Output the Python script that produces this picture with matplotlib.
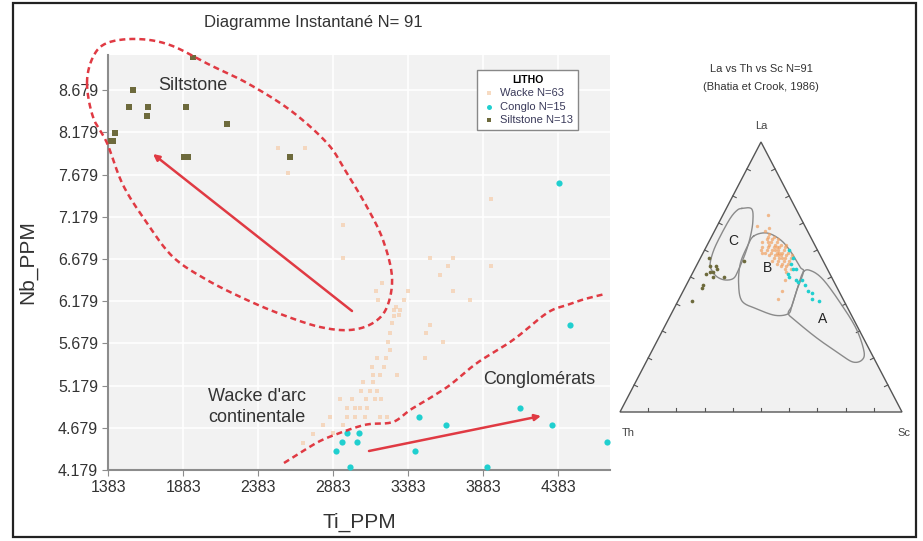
import numpy as np
import matplotlib.pyplot as plt
from matplotlib.patches import Rectangle, Polygon, FancyArrowPatch

plt.rcParams['font.family'] = ['Liberation Sans', 'DejaVu Sans']

# ---------------- main scatter : Ti_PPM vs Nb_PPM ----------------
wacke_ti = [2514, 2694, 2581, 2948, 2948, 3934, 3528, 3681, 3648, 3594,
            3934, 3681, 3794, 3168, 3181, 3354, 3288, 3328, 3288, 3321,
            3274, 3528, 3501, 3248, 3261, 3614, 3174, 3234, 3494, 3148,
            3194, 3308, 3081, 3148, 3128, 3174, 3161, 3201, 2928, 2974,
            3028, 2861, 2974, 3028, 3094, 3194, 2881, 3301, 3101, 2948,
            3141, 3221, 3061, 3108, 3241, 2814, 2748, 2681, 3261, 3381,
            3208, 3068, 3010]
wacke_nb = [7.994, 7.994, 7.698, 7.082, 6.691, 7.390, 6.691, 6.691, 6.596, 6.489,
            6.596, 6.300, 6.193, 6.300, 6.193, 6.193, 6.075, 6.075, 6.004, 6.016,
            5.921, 5.897, 5.802, 5.696, 5.601, 5.696, 5.506, 5.506, 5.506, 5.305,
            5.305, 5.305, 5.222, 5.222, 5.115, 5.115, 5.020, 5.020, 5.020, 4.914,
            4.914, 4.807, 4.807, 4.807, 4.807, 4.807, 4.617, 6.110, 5.020, 4.712,
            5.400, 5.400, 4.914, 4.914, 4.807, 4.712, 4.600, 4.500, 5.800, 6.300,
            6.400, 5.120, 5.020]

conglo_ti = [4390, 4461, 2900, 2941, 2974, 3041, 3054, 2996, 3426, 3453,
             3634, 3905, 4131, 4339, 4708]
conglo_nb = [7.583, 5.897, 4.408, 4.507, 4.614, 4.507, 4.614, 4.211, 4.408, 4.811,
             4.712, 4.211, 4.910, 4.712, 4.507]

silt_ti = [1946, 1550, 1521, 1650, 1639, 1899, 2172, 1428, 1394, 1412,
           1888, 1916, 2594]
silt_nb = [9.076, 8.681, 8.476, 8.476, 8.377, 8.476, 8.279, 8.175, 8.081, 8.081,
           7.884, 7.884, 7.884]

x_ticks = [1383, 1883, 2383, 2883, 3383, 3883, 4383]
y_ticks = [4.179, 4.679, 5.179, 5.679, 6.179, 6.679, 7.179, 7.679, 8.179, 8.679]

# ---------------- ternary La - Th - Sc (percent, Th = remainder) ----------------
t_wacke_la = [65, 64, 64, 63, 63, 62, 62, 61, 61, 61, 60, 60, 60, 59, 59, 59, 58, 58, 58, 57,
              57, 57, 56, 56, 55, 55, 54, 53, 63, 62, 61, 60, 59, 58, 57, 56, 65, 66, 64, 62,
              61, 59, 58, 56, 55, 54, 53, 52, 67, 60, 63, 61, 59, 57, 60, 58,
              69, 73, 45, 42, 59, 49, 68]
t_wacke_sc = [20, 22, 20, 22, 24, 22, 24, 24, 26, 22, 26, 24, 28, 26, 28, 24, 28, 26, 30, 28,
              30, 26, 30, 28, 30, 32, 32, 32, 19, 26, 20, 22, 30, 24, 32, 26, 22, 20, 24, 28,
              28, 22, 32, 32, 28, 30, 34, 33, 18, 20, 21, 25, 27, 29, 25, 27,
              14, 16, 35, 35, 21, 34, 19]
t_conglo_la = [60, 55, 53, 50, 49, 49, 45, 44, 42, 41, 53, 57, 51, 48, 47]
t_conglo_sc = [30, 33, 35, 35, 38, 40, 44, 46, 47, 50, 36, 33, 34, 39, 42]
t_silt_la = [57, 53, 52, 52, 50, 51, 50, 47, 46, 41, 56, 54, 54]
t_silt_sc = [3, 8, 7, 6, 8, 5, 12, 6, 6, 5, 16, 5, 7]

# Bhatia & Crook fields, traced as (La, Sc) fractions
field_c = [(0.754, 0.055), (0.752, 0.091), (0.704, 0.119), (0.644, 0.139), (0.585, 0.151),
           (0.525, 0.157), (0.495, 0.155), (0.489, 0.128), (0.501, 0.093), (0.525, 0.063),
           (0.549, 0.045), (0.597, 0.033), (0.651, 0.030), (0.716, 0.032), (0.746, 0.041)]
field_b = [(0.651, 0.148), (0.663, 0.189), (0.639, 0.248), (0.597, 0.305), (0.537, 0.370),
           (0.519, 0.391), (0.453, 0.401), (0.393, 0.413), (0.364, 0.415), (0.358, 0.371),
           (0.382, 0.294), (0.411, 0.227), (0.477, 0.182), (0.549, 0.152), (0.608, 0.145)]
field_a = [(0.519, 0.391), (0.522, 0.419), (0.489, 0.477), (0.406, 0.577), (0.310, 0.682),
           (0.226, 0.752), (0.193, 0.762), (0.185, 0.734), (0.214, 0.673), (0.274, 0.561),
           (0.334, 0.460), (0.364, 0.415), (0.393, 0.413), (0.453, 0.401)]
field_labels = [('C', 0.632, 0.085), ('B', 0.533, 0.255), ('A', 0.346, 0.547)]

# hand-drawn annotations (figure pixels)
silt_loop = [(87, 83), (93, 57), (107, 43), (137, 39), (170, 45), (210, 65), (247, 83),
             (290, 110), (327, 143), (345, 170), (367, 207), (383, 240), (392, 277),
             (387, 307), (373, 323), (350, 330), (320, 327), (283, 315), (247, 300),
             (207, 280), (173, 257), (147, 223), (123, 185), (107, 143), (93, 117)]
conglo_line = [(284, 463), (303, 451), (320, 441), (337, 434), (357, 427), (370, 424),
               (393, 422), (410, 410), (430, 398), (450, 385), (477, 363), (513, 340),
               (547, 313), (567, 305), (585, 299), (605, 294)]

W, H = 923, 541
RED = '#e03a43'


def box(l, t, r, b):
    return [l / W, 1 - b / H, (r - l) / W, (b - t) / H]


def smooth(pts, closed=False, n=14):
    p = np.asarray(pts, float)
    p = np.vstack([p[-1], p, p[0], p[1]]) if closed else np.vstack([p[0], p, p[-1]])
    t = np.linspace(0, 1, n, endpoint=False)[:, None]
    out = []
    for i in range(1, len(p) - 2):
        p0, p1, p2, p3 = p[i - 1], p[i], p[i + 1], p[i + 2]
        out.append(0.5 * (2 * p1 + (-p0 + p2) * t + (2 * p0 - 5 * p1 + 4 * p2 - p3) * t ** 2
                          + (-p0 + 3 * p1 - 3 * p2 + p3) * t ** 3))
    out.append(p[-2][None])
    return np.vstack(out)


fig = plt.figure(figsize=(W / 100, H / 100), dpi=100)

# ---------- main chart ----------
ax = fig.add_axes(box(108.3, 55, 610, 470))
ax.set_facecolor('#f2f2f2')
ax.scatter(wacke_ti, wacke_nb, marker='s', s=9, color='#f5cfae', alpha=0.75,
           linewidths=0, label='Wacke N=63', zorder=3)
ax.scatter(conglo_ti, conglo_nb, marker='o', s=20, color='#20cfcf',
           linewidths=0, label='Conglo N=15', zorder=3)
ax.scatter(silt_ti, silt_nb, marker='s', s=20, color='#6d6a3c',
           linewidths=0, label='Siltstone N=13', zorder=3)
ax.set_xlim(1383, 4728)
ax.set_ylim(4.179, 9.096)
ax.set_xticks(x_ticks)
ax.set_yticks(y_ticks)
ax.set_yticklabels(['%.3f' % v for v in y_ticks])
ax.grid(True, color='white', lw=1.2)
ax.set_axisbelow(True)
for s in ['top', 'right']:
    ax.spines[s].set_visible(False)
for s in ['left', 'bottom']:
    ax.spines[s].set_color('#8c8c8c')
    ax.spines[s].set_linewidth(1.5)
ax.tick_params(colors='#8c8c8c', labelcolor='#333333', labelsize=11.5, length=4)
ax.set_xlabel('Ti_PPM', fontsize=15, color='#333333')
ax.set_ylabel('Nb_PPM', fontsize=15, color='#333333')
ax.xaxis.set_label_coords(0.5, -0.104)
ax.yaxis.set_label_coords(-0.142, 0.5)

leg = ax.legend(title='LITHO', loc='upper left', bbox_to_anchor=(0.735, 0.964),
                borderaxespad=0, fontsize=8,
                title_fontproperties={'weight': 'bold', 'size': 7.5},
                frameon=True, fancybox=False, edgecolor='#888888', framealpha=1,
                handletextpad=0.4, borderpad=0.45, labelspacing=0.3, handlelength=1.2,
                markerscale=0.8)
leg.get_frame().set_linewidth(1)
for txt in leg.get_texts():
    txt.set_color('#3a3a5a')

fig.text(313 / W, 1 - 23 / H, 'Diagramme Instantané N= 91', ha='center', va='center',
         fontsize=12, color='#333333')

# ---------- ternary ----------
tx = fig.add_axes(box(620, 142, 902, 412))
tx.set_xlim(0, 1)
tx.set_ylim(0, 1)
tx.axis('off')


def tern(la, sc):
    la = np.asarray(la, float)
    sc = np.asarray(sc, float)
    return sc + la / 2, la


tx.add_patch(Polygon([(0, 0), (1, 0), (0.5, 1)], closed=True, facecolor='#f1f1f1',
                     edgecolor='#555555', lw=1, clip_on=False, zorder=1))
for f in np.arange(0.1, 0.91, 0.1):
    tx.plot([f, f], [0, 0.016], color='#555555', lw=0.8, zorder=2)
    tx.plot([f / 2, f / 2 + 0.012], [f, f - 0.006], color='#555555', lw=0.8, zorder=2)
    tx.plot([1 - f / 2, 1 - f / 2 - 0.012], [f, f - 0.006], color='#555555', lw=0.8, zorder=2)

for field in [field_c, field_b, field_a]:
    la, sc = zip(*field)
    xs, ys = tern(la, sc)
    c = smooth(list(zip(xs, ys)), closed=True)
    tx.plot(c[:, 0], c[:, 1], color='#8a8a8a', lw=1, zorder=3)
for lab, la, sc in field_labels:
    lx, ly = tern(la, sc)
    tx.text(lx, ly, lab, ha='center', va='center', fontsize=10, color='#222222', zorder=5)

xs, ys = tern(np.array(t_wacke_la) / 100, np.array(t_wacke_sc) / 100)
tx.scatter(xs, ys, s=6, color='#f0a060', alpha=0.7, linewidths=0, zorder=4)
xs, ys = tern(np.array(t_conglo_la) / 100, np.array(t_conglo_sc) / 100)
tx.scatter(xs, ys, s=7, color='#20cfcf', linewidths=0, zorder=4)
xs, ys = tern(np.array(t_silt_la) / 100, np.array(t_silt_sc) / 100)
tx.scatter(xs, ys, s=7, color='#6d6a3c', linewidths=0, zorder=4)

fig.text(761 / W, 1 - 69 / H, 'La vs Th vs Sc N=91', ha='center', va='center',
         fontsize=8, color='#333333')
fig.text(761 / W, 1 - 87 / H, '(Bhatia et Crook, 1986)', ha='center', va='center',
         fontsize=8, color='#333333')
fig.text(761 / W, 1 - 126 / H, 'La', ha='center', va='center', fontsize=8, color='#444444')
fig.text(628 / W, 1 - 433 / H, 'Th', ha='center', va='center', fontsize=8, color='#444444')
fig.text(904 / W, 1 - 433 / H, 'Sc', ha='center', va='center', fontsize=8, color='#444444')

# ---------- overlay: annotations drawn on top ----------
ov = fig.add_axes([0, 0, 1, 1], zorder=10)
ov.set_xlim(0, W)
ov.set_ylim(H, 0)
ov.axis('off')
ov.patch.set_alpha(0)

ov.add_patch(Rectangle((13, 3), 903, 534, fill=False, edgecolor='#222222', lw=1.6))

loop = smooth(silt_loop, closed=True)
ov.plot(loop[:, 0], loop[:, 1], color=RED, lw=1.8, ls=(0, (2.4, 1.6)))
cl = smooth(conglo_line)
ov.plot(cl[:, 0], cl[:, 1], color=RED, lw=1.8, ls=(0, (2.4, 1.6)))

ov.add_patch(FancyArrowPatch((352, 311), (153, 154), arrowstyle='-|>', mutation_scale=9,
                             color=RED, lw=1.8, shrinkA=0, shrinkB=0))
ov.add_patch(FancyArrowPatch((369, 451), (541, 416), arrowstyle='-|>', mutation_scale=9,
                             color=RED, lw=1.8, shrinkA=0, shrinkB=0))

ov.text(193, 85, 'Siltstone', ha='center', va='center', fontsize=13, color='#333333')
ov.text(257, 407, "Wacke d'arc\ncontinentale", ha='center', va='center', fontsize=13,
        color='#333333', linespacing=1.25)
ov.text(539, 380, 'Conglomérats', ha='center', va='center', fontsize=13, color='#333333')

fig.savefig('out.png', dpi=100)
